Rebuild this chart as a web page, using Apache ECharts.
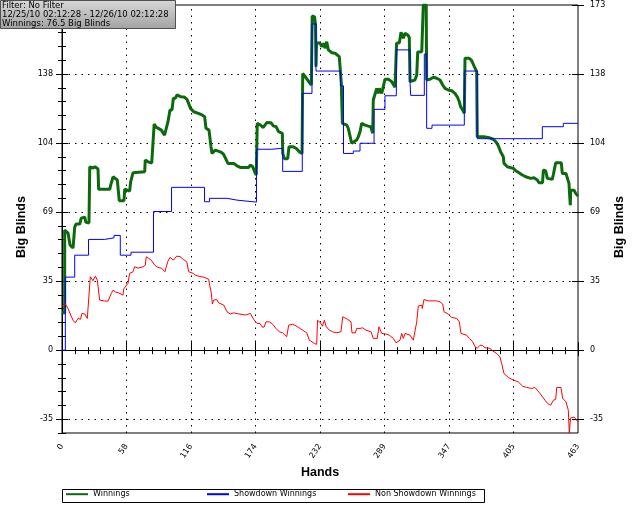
<!DOCTYPE html>
<html><head><meta charset="utf-8">
<script src="https://cdn.jsdelivr.net/npm/echarts@6/dist/echarts.min.js"></script>
<style>html,body{margin:0;padding:0;background:#fff}#c{width:638px;height:510px}</style>
</head><body><div id="c"></div>
<script>
// ---------- data ----------
const yMajor = [-34.6, 0, 34.6, 69.2, 103.8, 138.4, 173];
const xMajor = [0, 57.875, 115.75, 173.625, 231.5, 289.375, 347.25, 405.125, 463];

const winHands = [0, 2.4, 2.4, 3.6, 5.4, 7.2, 9.9, 11.4, 11.4, 12.6,
  15.9, 17.3, 20.4, 21.3, 24.2, 24.9, 27.8, 29.6, 32.3, 32.9,
  42.8, 43.7, 45.8, 47.3, 49.6, 51.1, 51.4, 55.6, 56.3, 57.9,
  60.7, 61.6, 63.7, 65.2, 74.2, 74.7, 77.2, 80.5, 82.1, 82.7,
  84.3, 86.1, 89.1, 92.0, 93.3, 95.1, 96.9, 98.7, 99.9, 101.7,
  103.2, 104.4, 106.8, 109.5, 112.2, 113.5, 115.3, 118.2, 122.3, 125.6,
  128.0, 129.2, 131.9, 133.7, 134.6, 136.1, 137.6, 142.0, 144.9, 146.5,
  148.9, 154.1, 157.0, 160.0, 167.5, 169.0, 171.1, 172.9, 174.3, 175.2,
  178.1, 180.6, 183.7, 187.5, 189.8, 192.0, 194.3, 197.7, 198.1, 199.5,
  202.5, 203.7, 207.0, 210.0, 212.9, 215.4, 216.0, 218.5, 221.4, 223.7,
  224.5, 226.6, 227.5, 227.9, 228.4, 231.5, 233.0, 235.1, 236.0, 237.5,
  239.0, 242.0, 245.0, 248.8, 250.1, 250.6, 251.6, 255.5, 256.9, 259.9,
  261.4, 264.4, 265.9, 267.4, 268.9, 271.9, 274.8, 277.0, 278.8, 279.3,
  280.9, 282.4, 283.8, 284.7, 286.9, 289.8, 292.8, 295.8, 298.8, 299.9,
  300.2, 302.7, 304.2, 306.3, 307.8, 310.2, 311.6, 312.3, 313.8, 316.7,
  318.3, 319.2, 322.8, 323.9, 324.2, 326.8, 327.2, 330.2, 333.2, 336.2,
  339.2, 341.6, 343.7, 346.6, 349.7, 352.6, 354.7, 356.5, 357.7, 359.5,
  361.0, 361.6, 363.1, 365.4, 367.6, 370.6, 372.1, 372.6, 378.6, 383.2,
  387.0, 389.2, 391.2, 393.6, 396.0, 396.6, 399.6, 405.0, 407.1, 410.1,
  413.0, 416.1, 420.6, 423.5, 426.5, 428.0, 431.2, 431.9, 434.0, 435.5,
  439.9, 440.8, 443.0, 448.0, 448.9, 452.2, 453.4, 454.9, 455.6, 456.1,
  456.4, 459.4, 460.9, 463];
const winBB = [19, 18.6, 60.2, 60.2, 58.7, 52.7, 51.2, 51.2, 61.7, 63.2,
  63.2, 66.2, 66.7, 64.2, 63.7, 91.9, 91.3, 91.9, 90.8, 80.6,
  80.6, 82.7, 86.9, 87.4, 85.3, 85.3, 74.9, 74.9, 80.7, 79.7,
  79.7, 84.4, 88.9, 89.4, 89.4, 95.3, 94.4, 93.8, 93.3, 113.3,
  111.8, 111.3, 110.3, 107.8, 108.8, 114.5, 120.4, 120.4, 126.2, 126.2,
  127.9, 127.9, 127.0, 126.9, 125.7, 125.4, 121.2, 119.5, 118.7, 117.9,
  117.0, 111.2, 110.3, 102.0, 98.6, 98.6, 100.3, 99.4, 98.3, 97.8,
  93.6, 93.6, 92.4, 91.6, 91.6, 92.8, 91.9, 89.3, 87.8, 113.7,
  112.8, 111.6, 114.1, 114.0, 112.3, 112.1, 109.5, 108.7, 98.6, 96.0,
  96.0, 102.0, 102.0, 101.2, 99.4, 98.6, 138.7, 136.9, 134.6, 132.9,
  167.5, 167.0, 163.0, 142.1, 153.9, 153.9, 152.1, 153.8, 151.3, 154.6,
  150.5, 149.1, 148.8, 147.1, 146.3, 133.9, 113.7, 112.8, 111.2, 103.7,
  102.8, 105.3, 107.0, 109.5, 113.7, 112.8, 112.3, 112.0, 108.7, 125.4,
  126.2, 131.2, 128.7, 131.2, 128.7, 135.8, 135.8, 134.6, 131.8, 131.4,
  153.8, 154.1, 159.3, 156.3, 158.8, 158.0, 156.8, 134.6, 133.7, 135.4,
  137.9, 149.5, 149.6, 148.8, 173, 173, 135.4, 135.8, 136.8, 136.3,
  135.4, 132.9, 131.2, 130.4, 130.0, 128.7, 127.0, 124.5, 122.0, 120.4,
  118.7, 146.3, 147.1, 146.3, 145.1, 141.3, 139.6, 107.0, 107.0, 106.5,
  105.7, 104.5, 102.8, 99.4, 96.9, 93.6, 91.9, 91.1, 89.9, 88.9,
  87.8, 86.9, 86.1, 86.4, 85.3, 83.9, 83.9, 90.3, 89.9, 86.1,
  85.6, 87.8, 93.9, 93.9, 88.6, 88.6, 87.8, 83.6, 76.9, 72.7,
  80.2, 80.2, 78.6, 77.2];

const sdHands = [0, 3.0, 11.4, 23.8, 38.3, 46.7, 52.3, 61.9, 82.1, 98.3,
  127.9, 132.4, 148.1, 157.0, 174.5, 188.2, 198.0, 215.6, 224.3, 227.9,
  249.9, 252.6, 261.4, 267.4, 280.0, 289.8, 300.0, 312.3, 312.9, 325.1,
  327.2, 332.0, 361.0, 372.6, 431.0, 449.8, 463];
const sdBB = [0, 36.6, 47.6, 55.5, 56.3, 57.5, 47.6, 49.1, 69.5, 81.6,
  74.4, 76.1, 75.2, 74.2, 100.7, 101.2, 89.6, 128.7, 163.5, 139.9,
  132.5, 98.6, 99.8, 103.7, 120.7, 127.5, 150.5, 133.8, 127.7, 148.4,
  111.2, 112.8, 139.9, 106.0, 112.0, 113.7, 113.7];

const nsdHands = [0, 2.7, 4.0, 5.4, 7.8, 9.9, 11.9, 14.4, 16.6, 17.9,
  20.4, 22.7, 24.2, 25.4, 27.8, 29.9, 31.7, 33.8, 38.3, 41.3,
  42.8, 44.2, 45.8, 47.8, 50.9, 54.7, 55.6, 59.2, 60.7, 63.7,
  65.2, 68.2, 72.7, 74.7, 75.6, 77.8, 80.1, 83.2, 86.1, 89.5,
  92.4, 94.8, 96.9, 99.9, 102.9, 105.9, 108.8, 111.9, 113.7, 114.9,
  117.8, 119.6, 122.3, 127.0, 131.5, 132.8, 134.0, 134.9, 136.1, 138.8,
  140.6, 145.1, 148.1, 151.0, 154.1, 157.0, 159.7, 164.5, 169.0, 172.0,
  175.0, 177.7, 179.5, 181.3, 183.0, 186.0, 189.1, 192.0, 195.0, 198.0,
  201.6, 203.4, 207.0, 211.5, 216.0, 219.6, 221.9, 226.4, 228.5, 229.3,
  232.4, 233.7, 235.4, 236.9, 239.8, 242.9, 245.9, 250.3, 251.9, 256.4,
  259.3, 260.2, 263.2, 264.4, 267.4, 269.8, 272.8, 277.3, 279.3, 282.9,
  284.4, 286.9, 291.4, 293.7, 297.3, 299.7, 303.3, 304.8, 306.3, 307.8,
  312.3, 315.2, 316.7, 318.3, 319.7, 322.8, 323.3, 324.8, 328.7, 336.2,
  339.2, 341.6, 342.8, 346.6, 349.7, 354.2, 356.5, 358.0, 363.1, 365.5,
  368.5, 370.6, 372.6, 375.1, 377.3, 379.6, 384.0, 386.5, 390.1, 393.0,
  394.5, 396.6, 400.5, 405.0, 409.4, 413.4, 417.0, 421.5, 424.4, 426.5,
  428.9, 433.4, 436.4, 438.5, 440.9, 443.0, 443.9, 447.7, 449.3, 452.2,
  454.3, 455.2, 456.3, 457.3, 459.4, 461.8, 463];
const nsdBB = [22, 23.4, 23.1, 20.9, 17.6, 15.0, 13.7, 15.9, 15.5, 18.4,
  18.1, 15.9, 15.4, 36.8, 34.8, 37.1, 35.1, 25.1, 24.6, 24.6,
  25.4, 28.4, 30.1, 29.2, 28.7, 27.6, 30.9, 33.5, 38.5, 39.3,
  41.8, 41.1, 41.8, 42.6, 46.8, 46.0, 45.1, 42.6, 41.5, 41.0,
  39.3, 44.3, 46.5, 45.1, 47.1, 46.9, 45.5, 44.3, 39.3, 39.8,
  38.5, 37.6, 37.1, 36.6, 35.6, 31.7, 28.6, 23.1, 25.1, 25.4,
  23.7, 22.6, 19.2, 18.1, 18.7, 18.3, 18.1, 17.6, 18.4, 15.4,
  13.4, 13.4, 11.7, 11.5, 14.2, 14.2, 13.0, 10.9, 9.2, 8.7,
  6.7, 12.5, 13.0, 11.7, 10.0, 8.7, 5.0, 3.4, 2.9, 15.0,
  13.4, 12.0, 15.0, 12.0, 10.0, 9.2, 8.7, 9.2, 16.7, 15.4,
  14.2, 8.7, 8.7, 10.9, 10.9, 11.2, 10.0, 9.2, 5.9, 5.9,
  11.7, 8.4, 8.0, 7.5, 5.9, 3.7, 5.0, 8.4, 5.9, 8.4,
  7.5, 5.0, 4.2, 14.2, 22.1, 22.6, 20.9, 25.4, 24.7, 24.7,
  24.2, 23.1, 19.2, 18.1, 16.4, 15.9, 14.2, 8.4, 7.5, 5.9,
  4.2, 1.7, 0.9, 2.5, 2.3, 1.2, 0.9, -0.4, -1.7, -3.4,
  -6.7, -11.7, -13.7, -15.0, -15.9, -18.1, -18.7, -19.2, -18.7, -20.1,
  -21.7, -25.1, -27.1, -27.6, -25.1, -24.6, -18.7, -18.7, -24.2, -25.9,
  -30.1, -41.6, -34.1, -33.8, -33.5, -35.1, -36.0];

// ---------- chart ----------
const FONT = '"DejaVu Sans", sans-serif';
const BOLDFONT = '"Liberation Sans", Arial, sans-serif';
const Y_MIN = -41.52, Y_MAX = 173, Y_STEP = 6.92;
const X_MIN = 0, X_MAX = 463, X_STEP = 11.575;

function yFmt(v){ const m = yMajor.find(t => Math.abs(v - t) < 0.01); return m === undefined ? '' : String(Math.round(m)); }
function xFmt(v){ const m = xMajor.find(t => Math.abs(v - t) < 0.01); return m === undefined ? '' : String(Math.round(m)); }

function yAx(pos, opt){
  return Object.assign({
    type:'value', min:Y_MIN, max:Y_MAX, interval:Y_STEP, position:pos,
    splitLine:{show:false}, axisLine:{show:false}, axisLabel:{show:false}, axisTick:{show:false}
  }, opt);
}
function xAx(pos, opt){
  return Object.assign({
    type:'value', min:X_MIN, max:X_MAX, interval:X_STEP, position:pos,
    splitLine:{show:false}, axisLine:{show:false}, axisLabel:{show:false}, axisTick:{show:false}
  }, opt);
}
const blk = {color:'#000', width:1};
const yAxes = [
  yAx('left', {axisLine:{show:true, lineStyle:blk}, axisTick:{show:true, inside:true, length:4, lineStyle:blk},
    axisLabel:{show:true, formatter:yFmt, margin:9, fontSize:8, fontFamily:FONT, color:'#000', showMinLabel:true, showMaxLabel:true}}),
  yAx('right', {axisLine:{show:true, lineStyle:blk}, axisTick:{show:true, inside:true, length:4, lineStyle:blk},
    axisLabel:{show:true, formatter:yFmt, margin:12, fontSize:8, fontFamily:FONT, color:'#000', showMinLabel:true, showMaxLabel:true}}),
  yAx('left', {axisTick:{show:true, inside:false, length:4, lineStyle:blk}}),
  yAx('right', {axisTick:{show:true, inside:false, length:4, lineStyle:blk}}),
  yAx('left', {axisTick:{show:true, inside:true, length:6, lineStyle:blk, customValues:yMajor}}),
  yAx('left', {axisTick:{show:true, inside:false, length:6, lineStyle:blk, customValues:yMajor}}),
  yAx('right', {axisTick:{show:true, inside:true, length:6, lineStyle:blk, customValues:yMajor}}),
  yAx('right', {axisTick:{show:true, inside:false, length:6, lineStyle:blk, customValues:yMajor}})
];
const xAxes = [
  xAx('bottom', {axisLine:{show:true, lineStyle:blk}, axisTick:{show:true, inside:true, length:3, lineStyle:blk},
    axisLabel:{show:true, formatter:xFmt, rotate:55, margin:12, fontSize:8, fontFamily:FONT, color:'#000', showMinLabel:true, showMaxLabel:true}}),
  xAx('bottom', {axisTick:{show:true, inside:false, length:3, lineStyle:blk}}),
  xAx('bottom', {axisTick:{show:true, inside:true, length:8, lineStyle:blk, customValues:xMajor}}),
  xAx('bottom', {axisTick:{show:true, inside:false, length:6, lineStyle:blk, customValues:xMajor}}),
  xAx('top', {axisTick:{show:true, inside:true, length:4, lineStyle:blk}})
];

const gridLines = [];
yMajor.forEach(v => { if (v !== 0 && v < Y_MAX) gridLines.push({yAxis:v}); });
xMajor.forEach(v => { if (v > X_MIN && v < X_MAX) gridLines.push({xAxis:v}); });
gridLines.push({yAxis:0, lineStyle:{type:'solid', color:'#000', width:1}});

const zip = (a, b) => a.map((h, i) => [h, b[i]]);
const legendBase = {top:489, padding:0, itemWidth:22, itemHeight:13, selectedMode:false,
  itemStyle:{opacity:0}, textStyle:{fontSize:8, fontFamily:FONT, color:'#000'}};

const chart = echarts.init(document.getElementById('c'), null, {renderer:'canvas'});
chart.setOption({
  animation:false,
  backgroundColor:'#fff',
  grid:{left:62, right:60, top:5, bottom:77, show:true, borderColor:'#000', borderWidth:1, backgroundColor:'transparent'},
  xAxis:xAxes,
  yAxis:yAxes,
  legend:[
    Object.assign({data:['Winnings'], left:65}, legendBase),
    Object.assign({data:['Showdown Winnings'], left:206}, legendBase),
    Object.assign({data:['Non Showdown Winnings'], left:347}, legendBase)
  ],
  series:[
    {name:'Winnings', type:'line', data:zip(winHands, winBB), symbol:'none', z:3,
      lineStyle:{color:'#0b6a0b', width:3}, itemStyle:{color:'#0b6a0b'}},
    {name:'Showdown Winnings', type:'line', step:'end', data:zip(sdHands, sdBB), symbol:'none', z:4,
      lineStyle:{color:'#0000ff', width:1}, itemStyle:{color:'#0000ff'},
      markLine:{silent:true, z:1, symbol:['none','none'], label:{show:false}, animation:false,
        lineStyle:{color:'#000', type:[1.5,5], width:1}, emphasis:{disabled:true}, data:gridLines}},
    {name:'Non Showdown Winnings', type:'line', data:zip(nsdHands, nsdBB), symbol:'none', z:5,
      lineStyle:{color:'#ff0000', width:1}, itemStyle:{color:'#ff0000'}}
  ],
  graphic:[
    {type:'rect', z:100, shape:{x:0.5, y:0.5, width:175, height:28},
      style:{fill:new echarts.graphic.LinearGradient(0,0,0,1,[{offset:0,color:'#d8d8d8'},{offset:1,color:'#a2a2a2'}]), stroke:'#505050', lineWidth:1}},
    {type:'text', z:101, x:2, y:1, style:{text:'Filter: No Filter\n12/25/10 02:12:28 - 12/26/10 02:12:28\nWinnings: 76.5 Big Blinds',
      font:'8.5px ' + FONT, fill:'#000', lineHeight:9.3}},
    {type:'text', x:22, y:227, rotation:Math.PI/2, style:{text:'Big Blinds', font:'bold 12.5px ' + BOLDFONT, fill:'#000', align:'center', verticalAlign:'middle'}},
    {type:'text', x:620, y:227, rotation:Math.PI/2, style:{text:'Big Blinds', font:'bold 12.5px ' + BOLDFONT, fill:'#000', align:'center', verticalAlign:'middle'}},
    {type:'text', x:320, y:473, style:{text:'Hands', font:'bold 12.5px ' + BOLDFONT, fill:'#000', align:'center', verticalAlign:'middle'}},
    {type:'rect', shape:{x:62.5, y:489.5, width:422, height:13}, style:{fill:'none', stroke:'#000', lineWidth:1}}
  ]
});
</script></body></html>
